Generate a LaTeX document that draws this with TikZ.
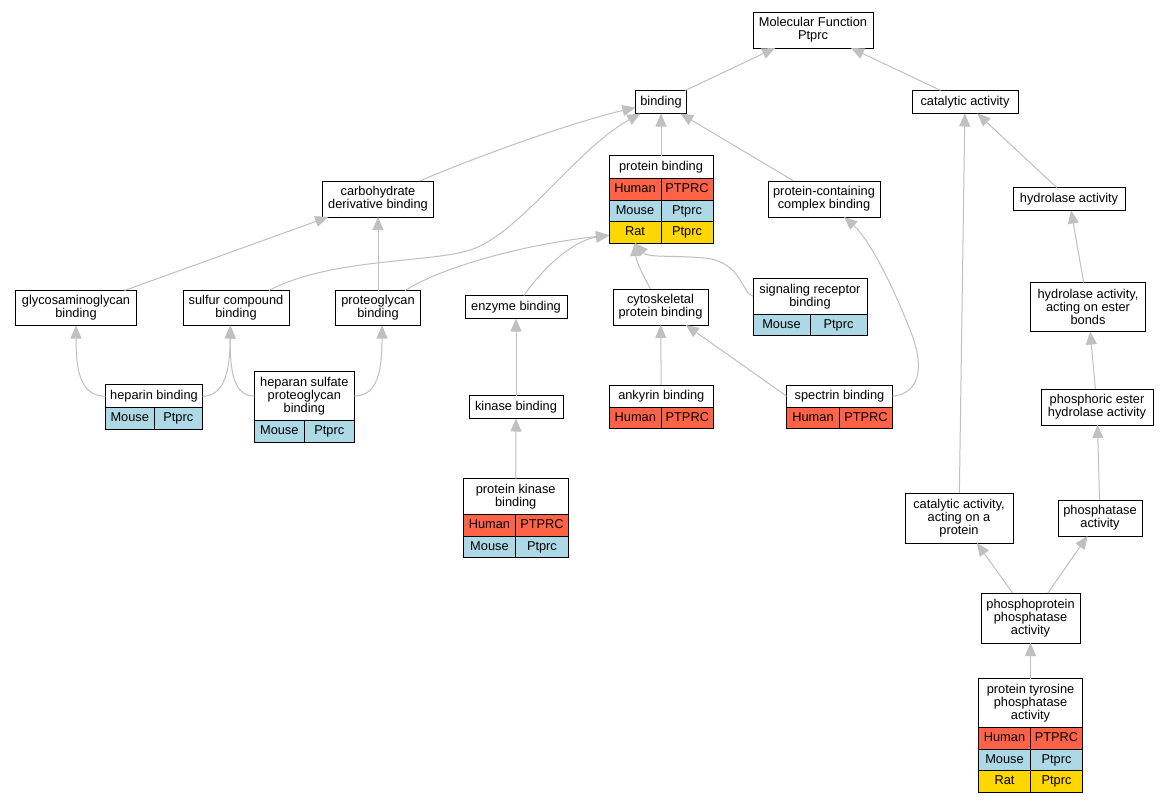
\documentclass[tikz,border=0pt]{standalone}
\usepackage{fontspec}
\setmainfont{Liberation Sans}
\usetikzlibrary{arrows.meta}
\definecolor{humanrow}{HTML}{FF6347}
\definecolor{mouserow}{HTML}{ADD8E6}
\definecolor{ratrow}{HTML}{FFD700}
\definecolor{isagray}{HTML}{C0C0C0}
\tikzset{
  term/.style={draw=black, line width=1pt, fill=white, align=center, inner sep=1pt, outer sep=0pt, font=\fontsize{12.8}{13}\selectfont},
  cell/.style={term, minimum height=21.5, text height=9.2, text depth=2.6},
  human/.style={cell, fill=humanrow},
  mouse/.style={cell, fill=mouserow},
  rat/.style={cell, fill=ratrow},
  isa/.style={draw=isagray, line width=1pt, -{Triangle[length=13pt, width=11pt]}}
}
\begin{document}
\begin{tikzpicture}[x=1pt, y=-1pt]
    \path[use as bounding box, fill=white] (0,0) rectangle (1169,803);
    % terms
    \node[term, minimum width=120, minimum height=36] (mf) at (813,30) {Molecular Function\\Ptprc};
    \node[term, minimum width=51, minimum height=23] (bind) at (661,102) {binding};
    \node[term, minimum width=106, minimum height=23] (cat) at (965,102) {catalytic activity};
    \node[term, minimum width=112, minimum height=36] (pccb) at (824,199) {protein-containing\\complex binding};
    \node[term, minimum width=111, minimum height=36] (carb) at (378,199) {carbohydrate\\derivative binding};
    \node[term, minimum width=112, minimum height=23] (hyd) at (1069,199) {hydrolase activity};
    \node[term, minimum width=121, minimum height=35] (glyc) at (76,308) {glycosaminoglycan\\binding};
    \node[term, minimum width=106, minimum height=35] (sulf) at (236,308) {sulfur compound\\binding};
    \node[term, minimum width=85, minimum height=35] (prot) at (378,308) {proteoglycan\\binding};
    \node[term, minimum width=102, minimum height=23] (enz) at (516,307) {enzyme binding};
    \node[term, minimum width=95, minimum height=36] (cyto) at (660.5,307) {cytoskeletal\\protein binding};
    \node[term, minimum width=115, minimum height=49] (hydest) at (1088,307) {hydrolase activity,\\acting on ester\\bonds};
    \node[term, minimum width=94, minimum height=23] (kin) at (516,407) {kinase binding};
    \node[term, minimum width=112, minimum height=36] (phest) at (1097,407) {phosphoric ester\\hydrolase activity};
    \node[term, minimum width=108, minimum height=50] (catp) at (959,518) {catalytic activity,\\acting on a\\protein};
    \node[term, minimum width=84, minimum height=36] (phos) at (1100,518) {phosphatase\\activity};
    \node[term, minimum width=99, minimum height=50] (ppp) at (1030.5,618) {phosphoprotein\\phosphatase\\activity};
    % annotated terms
    \node[term, minimum width=104, minimum height=23] (protb) at (661,167) {protein binding};
    \node[human, minimum width=52, anchor=north east] (protbH) at (protb.south) {Human};
    \node[human, minimum width=52, anchor=north west] (protbHg) at (protb.south) {PTPRC};
    \node[mouse, minimum width=52, anchor=north east] (protbM) at (protbH.south east) {Mouse};
    \node[mouse, minimum width=52, anchor=north west] (protbMg) at (protbH.south east) {Ptprc};
    \node[rat, minimum width=52, anchor=north east] (protbR) at (protbM.south east) {Rat};
    \node[rat, minimum width=52, anchor=north west] (protbRg) at (protbM.south east) {Ptprc};
    \node[term, minimum width=114, minimum height=36] (sigb) at (810,296.3) {signaling receptor\\binding};
    \node[mouse, minimum width=57, anchor=north east] (sigbM) at (sigb.south) {Mouse};
    \node[mouse, minimum width=57, anchor=north west] (sigbMg) at (sigb.south) {Ptprc};
    \node[term, minimum width=97, minimum height=23] (hepb) at (154,396.3) {heparin binding};
    \node[mouse, minimum width=48.5, anchor=north east] (hepbM) at (hepb.south) {Mouse};
    \node[mouse, minimum width=48.5, anchor=north west] (hepbMg) at (hepb.south) {Ptprc};
    \node[term, minimum width=100, minimum height=49.3] (hsb) at (304.3,396) {heparan sulfate\\proteoglycan\\binding};
    \node[mouse, minimum width=50, anchor=north east] (hsbM) at (hsb.south) {Mouse};
    \node[mouse, minimum width=50, anchor=north west] (hsbMg) at (hsb.south) {Ptprc};
    \node[term, minimum width=104, minimum height=22.3] (ankb) at (661.3,396.2) {ankyrin binding};
    \node[human, minimum width=52, anchor=north east] (ankbH) at (ankb.south) {Human};
    \node[human, minimum width=52, anchor=north west] (ankbHg) at (ankb.south) {PTPRC};
    \node[term, minimum width=106, minimum height=22.3] (specb) at (839.5,396.2) {spectrin binding};
    \node[human, minimum width=53, anchor=north east] (specbH) at (specb.south) {Human};
    \node[human, minimum width=53, anchor=north west] (specbHg) at (specb.south) {PTPRC};
    \node[term, minimum width=105, minimum height=36] (pkb) at (515.7,496.7) {protein kinase\\binding};
    \node[human, minimum width=52.5, anchor=north east] (pkbH) at (pkb.south) {Human};
    \node[human, minimum width=52.5, anchor=north west] (pkbHg) at (pkb.south) {PTPRC};
    \node[mouse, minimum width=52.5, anchor=north east] (pkbM) at (pkbH.south east) {Mouse};
    \node[mouse, minimum width=52.5, anchor=north west] (pkbMg) at (pkbH.south east) {Ptprc};
    \node[term, minimum width=104, minimum height=49] (ptp) at (1030.5,703.2) {protein tyrosine\\phosphatase\\activity};
    \node[human, minimum width=52, anchor=north east] (ptpH) at (ptp.south) {Human};
    \node[human, minimum width=52, anchor=north west] (ptpHg) at (ptp.south) {PTPRC};
    \node[mouse, minimum width=52, anchor=north east] (ptpM) at (ptpH.south east) {Mouse};
    \node[mouse, minimum width=52, anchor=north west] (ptpMg) at (ptpH.south east) {Ptprc};
    \node[rat, minimum width=52, anchor=north east] (ptpR) at (ptpM.south east) {Rat};
    \node[rat, minimum width=52, anchor=north west] (ptpRg) at (ptpM.south east) {Ptprc};
    % is_a edges
    \draw[isa] (bind) -- (mf);
    \draw[isa] (cat) -- (mf);
    \draw[isa] (protb) -- (bind);
    \draw[isa] (pccb) -- (bind);
    \draw[isa] (carb) .. controls (480,155) and (580,120) .. (bind);
    \draw[isa] (sulf) .. controls (330,258) and (430,263) .. (470,250) .. controls (520,234) and (575,150) .. (bind);
    \draw[isa] (glyc) -- (carb);
    \draw[isa] (prot) -- (carb);
    \draw[isa] (prot) .. controls (440,268) and (520,245) .. (protbR);
    \draw[isa] (enz) .. controls (545,265) and (575,240) .. (protbR);
    \draw[isa] (cyto) .. controls (640,270) and (636,260) .. (protbR.south);
    \draw[isa] (sigb.west) .. controls (742,294) and (742,262) .. (705,258) .. controls (670,255) and (648,258) .. (protbR.south);
    \draw[isa] (hepb.west) .. controls (80,396) and (76,370) .. (glyc);
    \draw[isa] (hepb.east) .. controls (225,396) and (230,370) .. (sulf.-108);
    \draw[isa] (hsb.west) .. controls (233,396) and (230,370) .. (sulf.-108);
    \draw[isa] (hsb.east) .. controls (378,396) and (382,370) .. (prot.-77);
    \draw[isa] (kin) -- (enz);
    \draw[isa] (pkb) -- (kin);
    \draw[isa] (ankb) -- (cyto);
    \draw[isa] (specb.west) -- (cyto);
    \draw[isa] (specb.east) .. controls (918,394) and (925,370) .. (912,335) .. controls (895,290) and (870,240) .. (pccb);
    \draw[isa] (catp) -- (cat);
    \draw[isa] (hyd) -- (cat);
    \draw[isa] (hydest) -- (hyd);
    \draw[isa] (phest) -- (hydest);
    \draw[isa] (phos) -- (phest);
    \draw[isa] (ppp) -- (catp);
    \draw[isa] (ppp) -- (phos);
    \draw[isa] (ptp) -- (ppp);
\end{tikzpicture}
\end{document}
